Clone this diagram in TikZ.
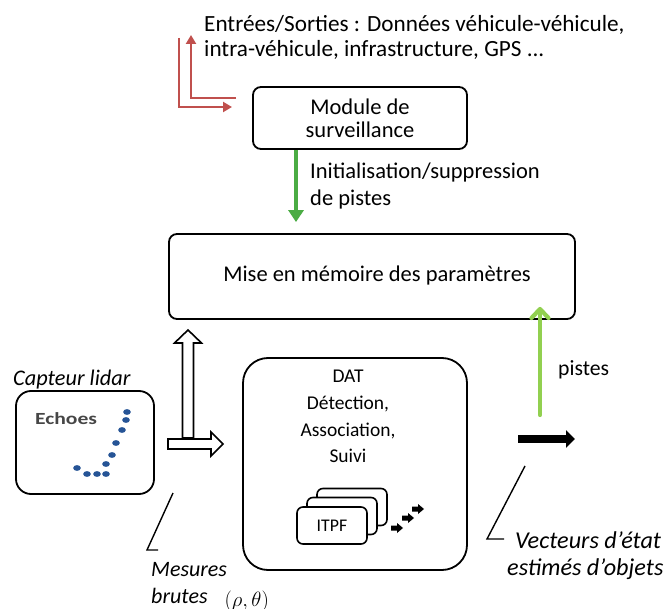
\documentclass[tikz,border=0pt]{standalone}
\usepackage{fontspec}
\setmainfont{Carlito}
\usepackage{graphicx}
\usepackage{tikz}
\usetikzlibrary{arrows.meta, positioning, calc}
\definecolor{redio}{RGB}{192,80,77}
\definecolor{greeninit}{RGB}{75,172,68}
\definecolor{greenpiste}{RGB}{146,208,80}
\definecolor{dotblue}{RGB}{38,84,150}
\definecolor{echogray}{RGB}{70,70,70}

\begin{document}
\begin{tikzpicture}[
    x=1pt, y=-1pt,
    font=\fontsize{22.5}{23}\selectfont,
    module/.style={rectangle, rounded corners=8pt, draw=black, line width=1.8pt, align=center, inner sep=0pt},
    itpfbox/.style={rectangle, rounded corners=6pt, draw=black, line width=1.6pt, fill=white, minimum width=70pt, minimum height=37pt, inner sep=0pt},
    note/.style={align=left, inner sep=0pt},
    remark/.style={align=left, inner sep=0pt, font=\fontsize{22}{27}\selectfont\itshape},
    hollow/.style={draw=black, line width=1.6pt, fill=white, line join=miter},
    redarrow/.style={draw=redio, line width=2.2pt, -{Triangle[width=10pt, length=9pt]}},
    initarrow/.style={draw=greeninit, line width=3.6pt, -{Triangle[width=15pt, length=12pt]}},
    pistearrow/.style={draw=greenpiste, line width=4.2pt, line cap=round, -{Straight Barb[width=17pt, length=9pt, round]}},
    leader/.style={draw=black, line width=1.4pt}
]
    \useasboundingbox (0,0) rectangle (666,609);

    % boites principales
    \node[module, minimum width=214pt, minimum height=62pt] (surv) at (360,118) {Module de\\surveillance};
    \node[module, minimum width=406pt, minimum height=85pt] (mise) at (372,276.5) {};
    \node[inner sep=0pt] (misetext) at (377,276) {Mise en mémoire des paramètres};
    \node[module, rounded corners=25pt, minimum width=224pt, minimum height=212pt] (dat) at (355,464) {};
    \node[note, align=center, font=\fontsize{19.5}{26.7}\selectfont, anchor=north] (dattext) at (348,370) {DAT\\Détection,\\Association,\\Suivi};
    \node[module, rounded corners=15pt, minimum width=138pt, minimum height=103pt] (lidar) at (85,442.5) {};

    % entrees / sorties
    \node[note, font=\fontsize{23.2}{25}\selectfont, anchor=west] (io) at (204,37) {Entrées/Sorties : Données véhicule-véhicule,\\intra-véhicule, infrastructure, GPS ...};
    \coordinate (r1s) at (236,98);
    \coordinate (r1e) at (191,35);
    \coordinate (r2s) at (179,38);
    \coordinate (r2e) at (232,107);
    \draw[redarrow] (r1s) -| (r1e);
    \draw[redarrow] (r2s) |- (r2e);

    % initialisation
    \coordinate (gx) at (296,0);
    \draw[initarrow] (surv.south -| gx) -- ([yshift=11pt]mise.north -| gx);
    \node[note, font=\fontsize{22.5}{27}\selectfont, anchor=west] (inittext) at (310,186) {Initialisation/suppression\\de pistes};

    % capteur lidar
    \node[note, font=\fontsize{22.3}{24}\selectfont\itshape, anchor=west] (lidartext) at (13,380) {Capteur lidar};
    \node[inner sep=0pt, text=echogray, font=\fontsize{17}{17}\selectfont\bfseries] (echoes) at (66,419) {\scalebox{1.27}[1]{Echoes}};
    \foreach \px/\py in {77/468, 87/474, 97/474, 106/474, 106/464, 112/455, 116/443, 122/430, 126/420, 127/412}
        \fill[dotblue] (\px,\py) ellipse [x radius=3.8, y radius=2.9];

    % fleches creuses
    \draw[hollow] (182.5,438) -- (182.5,343) -- (174.5,343) -- (188,330) -- (201.5,343) -- (193.5,343) -- (193.5,438) -- cycle;
    \draw[hollow] (168,439) -- (211,439) -- (211,432) -- (223,444) -- (211,456) -- (211,449) -- (168,449) -- cycle;

    % ITPF
    \node[itpfbox] (itpf3) at (352,507) {};
    \node[itpfbox] (itpf2) at (342,516) {};
    \node[itpfbox, font=\fontsize{17.8}{18}\selectfont] (itpf1) at (332,525.5) {ITPF};
    \foreach \ax/\ay in {397/528, 408/518, 418/509}
        \fill[black, shift={(\ax,\ay)}] (-6,-2.5) -- (0,-2.5) -- (0,-5) -- (6,0) -- (0,5) -- (0,2.5) -- (-6,2.5) -- cycle;

    % sortie
    \coordinate (vin) at (518,439);
    \coordinate (vout) at (575,439);
    \draw[line width=8pt, -{Triangle[width=17pt, length=9pt]}] (vin) -- (vout);
    \coordinate (pbot) at (540,415);
    \draw[pistearrow] (pbot) -- ([yshift=13pt]mise.south -| pbot);
    \node[note, font=\fontsize{21.7}{24}\selectfont, anchor=west] (pistes) at (558,370) {pistes};

    % annotations
    \coordinate (mesA) at (173,493);
    \coordinate (mesB) at (147,550);
    \draw[leader] (mesA) -- (mesB) -- ++(11,0);
    \node[remark, anchor=north west] (mesures) at (151,562) {Mesures\\brutes\hspace{17pt}{\upshape\fontsize{21}{21}\selectfont\raisebox{-3pt}{$(\rho,\theta)$}}};
    \coordinate (vecA) at (525,466);
    \coordinate (vecB) at (487,539);
    \draw[leader] (vecA) -- (vecB) -- ++(17,0);
    \node[remark, font=\fontsize{24.2}{27}\selectfont\itshape, anchor=north west] (vecteurs) at (507,531) {\hspace*{8pt}Vecteurs d'état\\estimés d'objets};
\end{tikzpicture}
\end{document}
